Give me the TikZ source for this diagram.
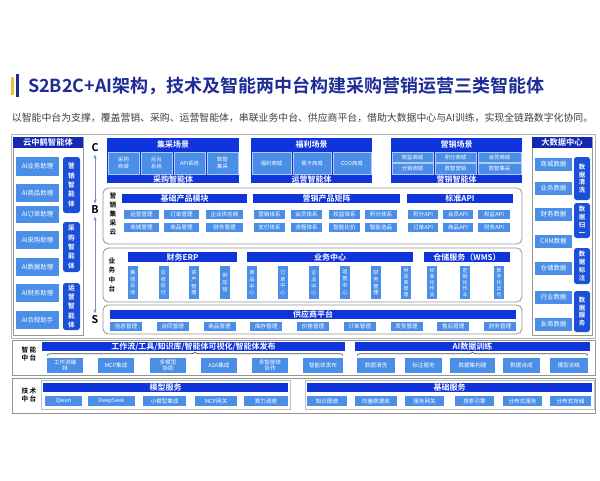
\documentclass[tikz,border=0pt]{standalone}
\usepackage{fontspec}
\setmainfont{Noto Sans CJK SC}[BoldFont={Noto Sans CJK SC Bold}]
\usetikzlibrary{decorations.pathreplacing,arrows.meta}
\definecolor{hdr}{RGB}{16,52,220}
\definecolor{itm}{RGB}{74,142,232}
\definecolor{pil}{RGB}{26,80,216}
\definecolor{navy}{RGB}{20,40,180}
\definecolor{ttl}{RGB}{30,44,150}
\definecolor{gry}{RGB}{150,150,150}
\definecolor{arrc}{RGB}{120,140,205}
\definecolor{ybar}{RGB}{242,192,48}
\newcommand{\mybox}[7]{\node[#6,minimum width={(#4-(#2))*0.75pt},minimum height={(#5-(#3))*0.75pt}] (#1) at ({(#2+#4)/2},{(#3+#5)/2}) {#7};}
\begin{document}
\begin{tikzpicture}[x=0.75pt,y=-0.75pt,
 every node/.style={inner sep=0pt,outer sep=0pt},
 hd/.style={fill=hdr,text=white,font=\bfseries\fontsize{6}{7}\selectfont},
 hdn/.style={fill=navy,text=white,font=\bfseries\fontsize{6.2}{7}\selectfont},
 blk/.style={fill=hdr},
 sc/.style={fill=itm,draw=white!55!itm,line width=0.3pt,text=white,font=\fontsize{4}{4.8}\selectfont,align=center},
 it/.style={fill=itm,text=white,font=\fontsize{4.2}{5}\selectfont,align=center},
 ai/.style={fill=itm,text=white,font=\fontsize{4.8}{5.5}\selectfont},
 vt/.style={fill=itm,text=white,font=\fontsize{3.9}{5.2}\selectfont,align=center},
 vtf/.style={fill=itm,text=white,font=\fontsize{3.7}{4.6}\selectfont,align=center},
 pl/.style={fill=pil,text=white,rounded corners=2pt,font=\bfseries\fontsize{5}{7}\selectfont,align=center},
 pq/.style={fill=pil,text=white,rounded corners=2pt,font=\bfseries\fontsize{4.8}{5.9}\selectfont,align=center},
 box/.style={draw=gry,line width=0.6pt},
 grp/.style={draw=gry,rounded corners=4pt,line width=0.6pt},
 lgrp/.style={draw=gry!60,line width=0.5pt},
 lbl/.style={font=\bfseries\fontsize{5}{6.6}\selectfont,align=center},
 arr/.style={{Stealth[length=3pt,width=2.5pt]}-{Stealth[length=3pt,width=2.5pt]},draw=arrc,line width=0.6pt,shorten <=2pt,shorten >=2pt},
 brc/.style={decorate,decoration={brace,amplitude=2.5pt},draw=black!70,line width=0.5pt}
]
\fill[white] (0,0) rectangle (600,480);
\useasboundingbox (0,0) rectangle (600,480);
% title
\mybox{yb}{11}{77}{14}{95}{fill=ybar}{}
\mybox{bb}{16}{74}{18.5}{97}{fill=ttl}{}
\node[anchor=west,font=\bfseries\fontsize{13.5}{15}\selectfont,text=ttl] (title) at (28,86) {S2B2C+AI架构，技术及智能两中台构建采购营销运营三类智能体};
\node[anchor=west,font=\fontsize{7.4}{9}\selectfont,text=black!75] (sub) at (12,118) {以智能中台为支撑，覆盖营销、采购、运营智能体，串联业务中台、供应商平台，借助大数据中心与AI训练，实现全链路数字化协同。};
% outer frame
\mybox{frame}{11}{134}{595}{338}{box,draw=gry!70}{}
% left column
\mybox{lc}{13}{137}{83}{335}{box}{}
\mybox{lch}{13}{137}{83}{148}{hdn}{云中鹤智能体}
\mybox{a1}{16}{157}{59}{176}{ai}{AI业务助理}
\mybox{a2}{16}{184}{59}{202}{ai}{AI商品助理}
\mybox{a3}{16}{206}{59}{223}{ai}{AI订单助理}
\mybox{a4}{16}{231}{59}{249}{ai}{AI采购助理}
\mybox{a5}{16}{258}{59}{276}{ai}{AI数据助理}
\mybox{a6}{16}{284}{59}{302}{ai}{AI财务助理}
\mybox{a7}{16}{311}{59}{329}{ai}{AI合规助手}
\mybox{p1}{63}{157}{80}{213}{pl}{营\\销\\智\\能\\体}
\mybox{p2}{63}{222}{80}{272}{pl}{采\\购\\智\\能\\体}
\mybox{p3}{63}{283}{80}{330}{pl}{运\\营\\智\\能\\体}
% C B S
\node[font=\bfseries\fontsize{8}{9}\selectfont] (C) at (95,148) {C};
\node[font=\bfseries\fontsize{8}{9}\selectfont] (B) at (95,210) {B};
\node[font=\bfseries\fontsize{8}{9}\selectfont] (S) at (95,320) {S};
\draw[arr] (C) -- (B);
\draw[arr] (B) -- (S);
% scenario blocks
\mybox{jc}{107}{138}{239}{183}{blk}{}
\mybox{jch}{107}{138}{239}{150}{hd}{集采场景}
\mybox{jc1}{108}{152}{139}{174}{sc}{采购\\商城}
\mybox{jc2}{141}{152}{172}{174}{sc}{后台\\系统}
\mybox{jc3}{174}{152}{205}{174}{sc}{API系统}
\mybox{jc4}{207}{152}{238}{174}{sc}{数智\\集采}
\mybox{jcb}{107}{175}{239}{183}{hd}{采购智能体}
\mybox{fl}{251}{138}{372}{183}{blk}{}
\mybox{flh}{251}{138}{372}{150}{hd}{福利场景}
\mybox{fl1}{252}{152}{291}{174}{sc}{福利商城}
\mybox{fl2}{293}{152}{331}{174}{sc}{餐卡商城}
\mybox{fl3}{333}{152}{371}{174}{sc}{O2O商城}
\mybox{flb}{251}{175}{372}{183}{hd}{运营智能体}
\mybox{yx}{391}{138}{522}{183}{blk}{}
\mybox{yxh}{391}{138}{522}{150}{hd}{营销场景}
\mybox{yx1}{392}{152}{433}{162.5}{sc}{权益商城}
\mybox{yx2}{435}{152}{476}{162.5}{sc}{积分商城}
\mybox{yx3}{478}{152}{521}{162.5}{sc}{会员商城}
\mybox{yx4}{392}{163.5}{433}{174}{sc}{分销商城}
\mybox{yx5}{435}{163.5}{476}{174}{sc}{数智营销}
\mybox{yx6}{478}{163.5}{521}{174}{sc}{数智集采}
\mybox{yxb}{391}{175}{522}{183}{hd}{营销智能体}
% marketing procurement cloud
\mybox{g1}{103}{188}{522}{244}{grp}{}
\node[lbl] (g1l) at (113,214) {营\\销\\集\\采\\云};
\mybox{m1}{122}{194}{247}{203}{hd}{基础产品模块}
\mybox{m11}{124}{210}{159}{218.5}{it}{运营管理}
\mybox{m12}{164}{210}{199}{218.5}{it}{订单管理}
\mybox{m13}{206}{210}{243}{218.5}{it}{企业供应商}
\mybox{m14}{124}{223}{159}{231.5}{it}{商城管理}
\mybox{m15}{164}{223}{199}{231.5}{it}{商品管理}
\mybox{m16}{206}{223}{243}{231.5}{it}{财务管理}
\mybox{m2}{253}{194}{400}{203}{hd}{营销产品矩阵}
\mybox{m21}{254}{210}{285}{218.5}{it}{营销体系}
\mybox{m22}{291}{210}{322}{218.5}{it}{会员体系}
\mybox{m23}{329}{210}{360}{218.5}{it}{权益体系}
\mybox{m24}{365}{210}{397}{218.5}{it}{积分体系}
\mybox{m25}{254}{223}{285}{231.5}{it}{支付体系}
\mybox{m26}{291}{223}{322}{231.5}{it}{流程体系}
\mybox{m27}{329}{223}{360}{231.5}{it}{智能比价}
\mybox{m28}{365}{223}{397}{231.5}{it}{智能选品}
\mybox{m3}{407}{194}{513}{203}{hd}{标准API}
\mybox{m31}{408}{210}{438}{218.5}{it}{积分API}
\mybox{m32}{443}{210}{473}{218.5}{it}{会员API}
\mybox{m33}{478}{210}{510}{218.5}{it}{权益API}
\mybox{m34}{408}{223}{438}{231.5}{it}{订单API}
\mybox{m35}{443}{223}{473}{231.5}{it}{商品API}
\mybox{m36}{478}{223}{510}{231.5}{it}{财务API}
% business middle platform
\mybox{g2}{103}{248}{522}{302}{grp}{}
\node[lbl,font=\bfseries\fontsize{5}{7.2}\selectfont] (g2l) at (112,275) {业\\务\\中\\台};
\mybox{e0}{128}{252}{237}{262}{hd}{财务ERP}
\mybox{e1}{128}{266}{138}{299}{vt}{集\\团\\总\\账}
\mybox{e2}{158.5}{266}{168.5}{299}{vt}{应\\收\\应\\付}
\mybox{e3}{189}{266}{199}{299}{vt}{资\\产\\管\\理}
\mybox{e4}{220}{266}{230}{299}{vt}{供\\应\\链}
\mybox{c0}{247}{252}{413}{262}{hd}{业务中心}
\mybox{c1}{247}{266}{257}{299}{vt}{商\\品\\中\\心}
\mybox{c2}{278}{266}{288}{299}{vt}{订\\单\\中\\心}
\mybox{c3}{309}{266}{319}{299}{vt}{企\\业\\中\\心}
\mybox{c4}{340}{266}{350}{299}{vt}{运\\营\\中\\心}
\mybox{c5}{371}{266}{381}{299}{vt}{财\\务\\管\\理}
\mybox{c6}{401}{266}{411}{299}{vtf}{供\\应\\商\\管\\理}
\mybox{w0}{424}{252}{510}{262}{hd}{仓储服务（WMS）}
\mybox{w1}{427}{266}{437}{299}{vtf}{标\\准\\化\\作\\业}
\mybox{w2}{460}{266}{470}{299}{vtf}{定\\制\\化\\作\\业}
\mybox{w3}{494}{266}{504}{299}{vtf}{数\\字\\化\\云\\仓}
% supplier platform
\mybox{g3}{103}{305}{522}{334}{grp}{}
\mybox{s0}{110}{310}{516}{318.5}{hd}{供应商平台}
\mybox{s1}{110}{322}{142}{331}{it}{信息管理}
\mybox{s2}{156.75}{322}{188.75}{331}{it}{合同管理}
\mybox{s3}{203.5}{322}{235.5}{331}{it}{商品管理}
\mybox{s4}{250.25}{322}{282.25}{331}{it}{库存管理}
\mybox{s5}{297}{322}{329}{331}{it}{价格管理}
\mybox{s6}{343.75}{322}{375.75}{331}{it}{订单管理}
\mybox{s7}{390.5}{322}{422.5}{331}{it}{发货管理}
\mybox{s8}{437.25}{322}{469.25}{331}{it}{售后管理}
\mybox{s9}{484}{322}{516}{331}{it}{财务管理}
% big data center
\mybox{rc}{532}{137}{592}{335}{box}{}
\mybox{rch}{532}{137}{592}{148}{hdn}{大数据中心}
\mybox{d1}{535}{158}{572}{171}{ai}{商城数据}
\mybox{d2}{535}{182}{572}{195}{ai}{业务数据}
\mybox{d3}{535}{208}{572}{221}{ai}{财务数据}
\mybox{d4}{535}{235}{572}{248}{ai}{CRM数据}
\mybox{d5}{535}{262}{572}{275}{ai}{仓储数据}
\mybox{d6}{535}{291}{572}{304}{ai}{行业数据}
\mybox{d7}{535}{318}{572}{331}{ai}{友商数据}
\mybox{q1}{574}{157}{590}{200}{pq}{数\\据\\清\\洗}
\mybox{q2}{574}{203}{590}{238}{pq}{数\\据\\归\\一}
\mybox{q3}{574}{248}{590}{284}{pq}{数\\据\\标\\注}
\mybox{q4}{574}{291}{590}{332}{pq}{数\\据\\服\\务}
% intelligent middle platform
\mybox{zn}{12}{340}{595}{375}{box}{}
\node[lbl,font=\bfseries\fontsize{5}{6.2}\selectfont] (znl) at (29,354) {智 能\\中 台};
\mybox{z0}{42}{342}{345}{351}{hd}{工作流/工具/知识库/智能体可视化/智能体发布}
\mybox{z1}{47}{358}{83}{373}{it}{工作流编\\排}
\mybox{z2}{98}{358}{134}{373}{it}{MCP集成}
\mybox{z3}{150}{358}{186}{373}{it}{多模型\\协助}
\mybox{z4}{201}{358}{237}{373}{it}{A2A集成}
\mybox{z5}{252}{358}{288}{373}{it}{多智能体\\协作}
\mybox{z6}{303}{358}{343}{373}{it}{智能体发布}
\draw[brc] ([yshift=2pt]z1.north west) -- ([yshift=2pt]z6.north east);
\mybox{t0}{355}{342}{590}{351}{hd}{AI数据训练}
\mybox{t1}{357}{358}{395}{373}{it}{数据清洗}
\mybox{t2}{405}{358}{442}{373}{it}{标注服务}
\mybox{t3}{450}{358}{495}{373}{it}{数据集构建}
\mybox{t4}{503}{358}{540}{373}{it}{数据合成}
\mybox{t5}{550}{358}{588}{373}{it}{模型训练}
\draw[brc] ([yshift=2pt]t1.north west) -- ([yshift=2pt]t5.north east);
% technical middle platform
\mybox{js}{12}{378}{595}{413}{box}{}
\node[lbl,font=\bfseries\fontsize{5}{6.2}\selectfont] (jsl) at (29,395) {技 术\\中 台};
\mybox{mg}{41}{380.5}{290}{409.5}{lgrp}{}
\mybox{mo}{43}{383}{288}{392}{hd}{模型服务}
\mybox{mo1}{45}{396}{82}{406}{it}{Qwen}
\mybox{mo2}{88}{396}{135}{406}{it}{DeepSeek}
\mybox{mo3}{143}{396}{186}{406}{it}{小模型集成}
\mybox{mo4}{195}{396}{237}{406}{it}{MCP网关}
\mybox{mo5}{244}{396}{288}{406}{it}{算力调度}
\mybox{jg}{305}{380.5}{594}{409.5}{lgrp}{}
\mybox{jc0}{307}{383}{592}{392}{hd}{基础服务}
\mybox{jj1}{307}{396}{347}{406}{it}{知识图谱}
\mybox{jj2}{355}{396}{397}{406}{it}{向量数据库}
\mybox{jj3}{405}{396}{444}{406}{it}{服务网关}
\mybox{jj4}{455}{396}{494}{406}{it}{搜索引擎}
\mybox{jj5}{503}{396}{542}{406}{it}{分布式服务}
\mybox{jj6}{550}{396}{591}{406}{it}{分布式存储}
\end{tikzpicture}
\end{document}
